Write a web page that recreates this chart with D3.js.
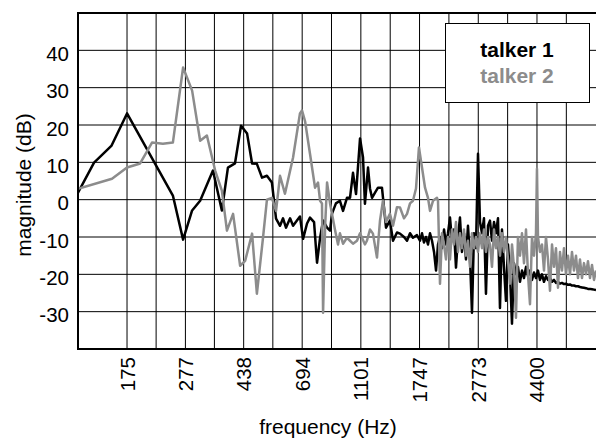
<!DOCTYPE html>
<html>
  <head>
    <meta charset="utf-8">
    <title>talker spectra</title>
    <script src="https://d3js.org/d3.v7.min.js"></script>
    <style>
      body { margin: 0; background: white; }
      text { font-family: "Liberation Sans", Arial, sans-serif; }
    </style>
  </head>
  <body>
    <div id="chart"></div>
    <script>
      // values: frequency (Hz) and magnitude (dB)
      var freq1 = [119,135,155,175,251,272,292,311,344,369,387,409,429,450,468,486,506,526,547,560,565,
        583,597,611,631,646,666,682,699,721,738,762,780,799,818,844,864,877,905,934,957,987,1011,1035,1060,
        1094,1120,1137,1165,1183,1202,1231,1260,1300,1321,1342,1384,1418,1463,1498,1546,1583,1621,1659,1712,
        1753,1781,1809,1838,1867,1897,1927,1958,1989,2020,2052,2085,2118,2151,2185,2220,2255,2291,2327,2364,
        2401,2439,2478,2517,2557,2598,2639,2681,2723,2767,2811,2855,2900,2946,2993,3040,3089,3138,3187,3238,
        3289,3341,3394,3448,3503,3558,3615,3672,3730,3789,3850,3911,3973,4036,4100,4165,4231,4298,4366,4435,
        4505,4577,4650,4723,4798,4874,4952,5030,5110,5191,5273,5357,5442,5528,5616,5704,5795,5887,5980,6075,
        6171,6269,6369,6470,6572,6677,6783,6890,6999];
      var mag1 = [1.9,9.9,14.5,23.1,1.1,-10.7,-2.9,-0.3,7.8,-2.9,8.6,9.7,19.8,17.7,9.7,9.6,5.9,6.4,4.6,-2.4,-5.1,
        -7,-5,-7.5,-5,-7,-5.6,-4.5,-10.5,-6.4,-4.8,-6,-16.9,-10.2,-5.6,-7.5,-8.3,-3.8,-1,-0.3,-3,0.5,0.5,7.2,1.5,
        16.4,11.3,-1.1,8.6,3,0.5,1.9,3.2,3.2,-2.1,-7.5,-5.6,-11,-8.8,-9.1,-10,-11,-9,-10.2,-9.5,
        -11,-9,-11.5,-10,-12,-9,-11,-14,-19,-12,-10,-13,-8,-12,-9,-4.8,-11,-8,-18.2,-10,
        -4.8,-14,-9,-16,-7,-15.5,-30.3,-9,-13,12.3,-6,-9,-5,-25.2,-7,-5.6,-11,-6,-9,-5,
        -29,-8,-18,-27.1,-12,-19.8,-33.2,-17,-20,-18,-22,-19,-21,-18,-20.5,-19,-21.5,-19.5,-21,-19,
        -21.5,-20,-22,-20.5,-21.5,-21,-22,-21.5,-22.3,-22,-22.5,-22.3,-22.6,-22.5,-22.8,-22.7,-23,-23,-23.2,-23.2,
        -23.4,-23.5,-23.6,-23.7,-23.9,-23.9,-24,-24.1,-24.2];

      var freq2 = [119,155.5,175,194,213,232,251,272,292,311,328,350,369,384,403,426,443,468,486,510,526,547,565,
        583,606,646,682,693,710,738,768,786,799,811,818,831,844,864,898,920,934,957,987,1011,1035,1068,1094,
        1111,1137,1155,1183,1211,1250,1280,1310,1342,1384,1418,1463,1498,1546,1583,1621,1659,1699,1739,1781,
        1824,1867,1897,1942,2004,2020,
        2052,2085,2118,2151,2185,2220,2255,2291,2327,2364,2401,2439,2478,2517,2557,2598,2639,2681,2723,2767,
        2811,2855,2900,2946,2993,3040,3089,3138,3187,3238,3289,3341,3394,3448,3503,3558,3615,3672,3730,3789,
        3850,3911,3973,4036,4100,4165,4231,4298,4366,4400,4435,4505,4577,4650,4723,4798,4874,4952,5030,5110,5191,
        5273,5357,5442,5528,5616,5704,5795,5887,5980,6075,6171,6269,6369,6470,6572,6677,6783,6890,6999];
      var mag2 = [2.9,5.6,8.6,9.7,15.3,15,15.3,35.4,29.2,15.8,17.2,7.8,2.4,-8.3,-3.8,-17.7,-16.4,-9.1,-25.2,-10.2,0,0.5,-3,
        6.4,1.6,11.3,23.1,23.9,21,12.3,3.2,4.6,-0.3,-1,-30.3,-7.5,4.6,-1,-8,-12,-9,-11.8,-10.2,-11,-11.8,-11,-9,
        -10.2,-12,-11,-8,-9.1,-15.5,-5.6,-0.3,-6,-3.8,-7,-2,-2.1,-5,-3.8,-1,-0.3,3,14,8.6,
        3.2,0.5,-3,-0.3,0.5,-0.3,
        -22.5,-9,-12,-16,-10,-16,-8,-12,-6,-14,-9,-13,-8,-15,-11,-18,-9,-13,-10,-14,
        -9,-13,-8,-14,-10,-12,-18,-8,-13,-10,-15,-9,-14,-10,-16,-22.5,-12,-18,-31.6,-10,
        -15,-9,-17,-8,-20,-28,-10,-15,-9,8.3,-10,-14,-12,-19,-10,-16,-24.4,-12,-18,-13,-23.6,
        -14,-19,-13,-20,-15,-20,-14,-19,-15,-21,-16,-21,-17,-20,-16.5,-21,-17.5,-21.5,-19];

      var tickFreqs = [175, 277, 438, 694, 1101, 1747, 2773, 4400];
      var midFreqs = [220, 348, 551, 874, 1387, 2201, 3493, 5543];
      var magTicks = [40, 30, 20, 10, 0, -10, -20, -30];
      var series = [
        { label: "talker 1", color: "#000000", freq: freq1, mag: mag1 },
        { label: "talker 2", color: "#8c8c8c", freq: freq2, mag: mag2 }
      ];

      var width = 596;
      var height = 438;
      var plotLeft = 78, plotRight = 596, plotTop = 13, plotBottom = 349;

      var svg = d3.select("#chart")
        .append("svg")
        .attr("width", width)
        .attr("height", height);

      var x = d3.scaleLog().domain([119, 7000]).range([plotLeft, plotRight]);
      var y = d3.scaleLinear().domain([-40, 50]).range([plotBottom, plotTop]);

      // grid
      var grid = svg.append("g").attr("stroke", "#000").attr("stroke-width", 1);
      grid.selectAll("line.v")
        .data(tickFreqs.concat(midFreqs))
        .enter()
        .append("line")
        .attr("class", "v")
        .attr("x1", function(d) { return x(d); })
        .attr("x2", function(d) { return x(d); })
        .attr("y1", plotTop)
        .attr("y2", plotBottom);
      grid.selectAll("line.h")
        .data(magTicks)
        .enter()
        .append("line")
        .attr("class", "h")
        .attr("x1", plotLeft)
        .attr("x2", plotRight)
        .attr("y1", function(d) { return y(d); })
        .attr("y2", function(d) { return y(d); });

      // curves
      svg.append("clipPath").attr("id", "plot")
        .append("rect")
        .attr("x", plotLeft).attr("y", plotTop)
        .attr("width", plotRight - plotLeft).attr("height", plotBottom - plotTop);

      var line = d3.line()
        .x(function(d) { return x(d[0]); })
        .y(function(d) { return y(d[1]); });

      svg.append("g")
        .attr("clip-path", "url(#plot)")
        .selectAll("path")
        .data(series)
        .enter()
        .append("path")
        .attr("fill", "none")
        .attr("stroke", function(d) { return d.color; })
        .attr("stroke-width", 2.5)
        .attr("stroke-linejoin", "round")
        .attr("d", function(d) {
          return line(d.freq.map(function(f, i) { return [f, d.mag[i]]; }));
        });

      // frame
      svg.append("line").attr("x1", plotLeft).attr("x2", plotRight).attr("y1", plotTop).attr("y2", plotTop)
        .attr("stroke", "#000").attr("stroke-width", 2);
      svg.append("line").attr("x1", plotLeft).attr("x2", plotRight).attr("y1", plotBottom).attr("y2", plotBottom)
        .attr("stroke", "#000").attr("stroke-width", 2);
      svg.append("line").attr("x1", plotLeft).attr("x2", plotLeft).attr("y1", plotTop - 1).attr("y2", plotBottom + 1)
        .attr("stroke", "#000").attr("stroke-width", 2);

      // y tick labels
      svg.selectAll("text.ytick")
        .data(magTicks)
        .enter()
        .append("text")
        .attr("class", "ytick")
        .attr("x", 69)
        .attr("y", function(d) { return y(d) + 10.5; })
        .attr("text-anchor", "end")
        .attr("font-size", 20.5)
        .text(function(d) { return d; });

      // x tick labels, rotated
      svg.selectAll("text.xtick")
        .data(tickFreqs)
        .enter()
        .append("text")
        .attr("class", "xtick")
        .attr("transform", function(d) { return "translate(" + (x(d) + 7.5) + ",357) rotate(-90)"; })
        .attr("text-anchor", "end")
        .attr("font-size", 20.5)
        .text(function(d) { return d; });

      svg.append("text")
        .attr("x", 328)
        .attr("y", 434)
        .attr("text-anchor", "middle")
        .attr("font-size", 21)
        .text("frequency (Hz)");

      svg.append("text")
        .attr("transform", "translate(31,185) rotate(-90)")
        .attr("text-anchor", "middle")
        .attr("font-size", 21)
        .text("magnitude (dB)");

      // legend
      var legend = svg.append("g");
      legend.append("rect")
        .attr("x", 445.5).attr("y", 23.5)
        .attr("width", 144).attr("height", 79)
        .attr("fill", "#fff")
        .attr("stroke", "#000")
        .attr("stroke-width", 1);
      legend.selectAll("text")
        .data(series)
        .enter()
        .append("text")
        .attr("x", 517)
        .attr("y", function(d, i) { return 57 + i * 26; })
        .attr("text-anchor", "middle")
        .attr("font-size", 21)
        .attr("font-weight", "bold")
        .attr("fill", function(d) { return d.color; })
        .text(function(d) { return d.label; });
    </script>
  </body>
</html>
